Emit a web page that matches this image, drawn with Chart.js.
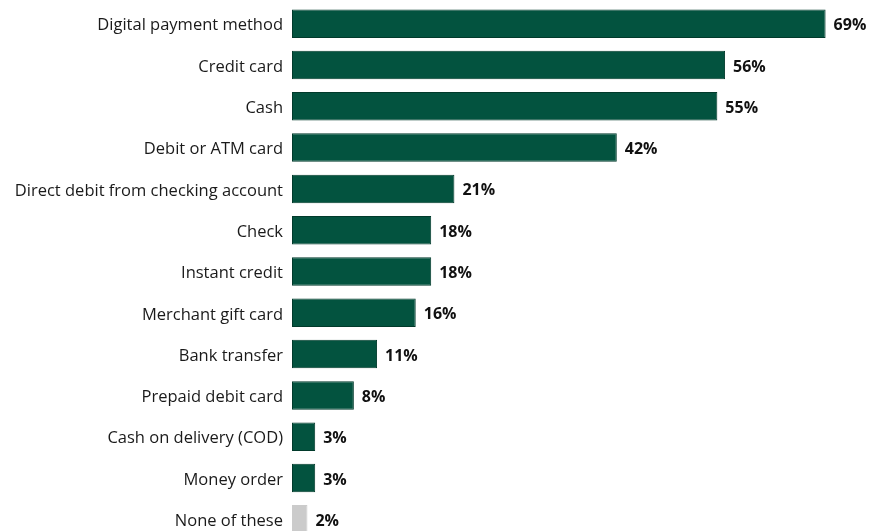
<!DOCTYPE html>
<html>
<head>
    <title>Payment methods used</title>
    <script src="https://cdn.jsdelivr.net/npm/chart.js"></script>
    <style>
        html, body {
            margin: 0;
            padding: 0;
            background: #ffffff;
            overflow: hidden;
        }
        .chart-container {
            position: relative;
            width: 872px;
            height: 540px;
        }
    </style>
</head>
<body>
    <div class="chart-container">
        <canvas id="paymentChart"></canvas>
    </div>

    <script>
        // Share of respondents using each payment method (%)
        const methods = [
            'Digital payment method',
            'Credit card',
            'Cash',
            'Debit or ATM card',
            'Direct debit from checking account',
            'Check',
            'Instant credit',
            'Merchant gift card',
            'Bank transfer',
            'Prepaid debit card',
            'Cash on delivery (COD)',
            'Money order',
            'None of these'
        ];
        const shares = [69, 56, 55, 42, 21, 18, 18, 16, 11, 8, 3, 3, 2];

        const green = '#03533f';
        const greenEdge = '#013a2b';
        const grey = '#cbcbcb';

        const fillColors = methods.map(m => m === 'None of these' ? grey : green);
        const edgeColors = methods.map(m => m === 'None of these' ? grey : greenEdge);

        const fontFamily = '"Open Sans", Lato, sans-serif';

        // Percent labels to the right of each bar
        const valueLabels = {
            id: 'valueLabels',
            afterDatasetsDraw(chart) {
                const ctx = chart.ctx;
                const meta = chart.getDatasetMeta(0);
                ctx.save();
                ctx.font = 'bold 16px ' + fontFamily;
                ctx.fillStyle = '#111111';
                ctx.textAlign = 'left';
                ctx.textBaseline = 'middle';
                meta.data.forEach((bar, i) => {
                    ctx.fillText(shares[i] + '%', bar.x + 8, bar.y + 2);
                });
                ctx.restore();
            }
        };

        const ctx = document.getElementById('paymentChart').getContext('2d');
        new Chart(ctx, {
            type: 'bar',
            data: {
                labels: methods,
                datasets: [{
                    data: shares,
                    backgroundColor: fillColors,
                    borderColor: edgeColors,
                    borderWidth: 1,
                    borderSkipped: false,
                    categoryPercentage: 1,
                    barPercentage: 0.69
                }]
            },
            options: {
                indexAxis: 'y',
                responsive: true,
                maintainAspectRatio: false,
                animation: false,
                layout: {
                    padding: { top: 3, right: 0, bottom: 0, left: 0 }
                },
                plugins: {
                    legend: { display: false },
                    tooltip: { enabled: false }
                },
                scales: {
                    x: {
                        display: false,
                        min: 0,
                        max: 75
                    },
                    y: {
                        grid: { display: false, drawTicks: false },
                        border: { display: false },
                        afterFit(scale) {
                            scale.width = 292;
                            scale.paddingTop = 0;
                            scale.paddingBottom = 0;
                        },
                        ticks: {
                            color: '#1a1a1a',
                            padding: 9,
                            labelOffset: 2,
                            font: { family: fontFamily, size: 16.5 }
                        }
                    }
                }
            },
            plugins: [valueLabels]
        });
    </script>
</body>
</html>
